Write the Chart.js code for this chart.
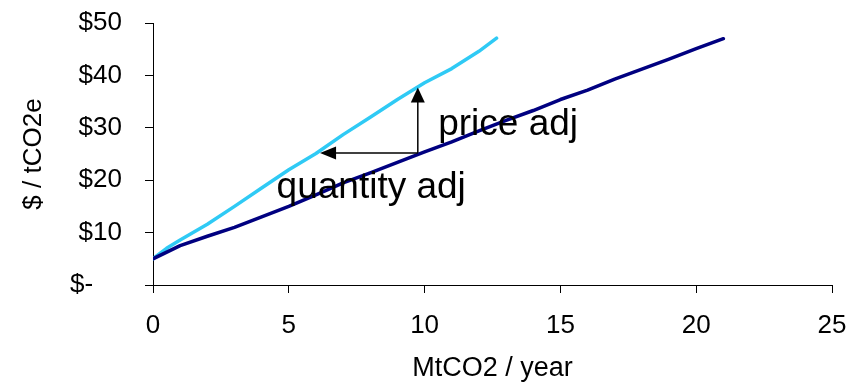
<!DOCTYPE html>
<html>
<head>
<meta charset="utf-8">
<script src="https://cdn.jsdelivr.net/npm/chart.js@4/dist/chart.umd.min.js"></script>
<style>
  html, body { margin: 0; padding: 0; background: #fff; }
  canvas { display: block; }
</style>
</head>
<body>
<canvas id="supply" width="864" height="385"></canvas>
<script>
// Abatement supply curves: price per tonne against quantity abated
const baseQty   = [0, 1, 2, 3, 4, 5, 6, 7, 8, 9, 10, 11, 12, 13, 14, 15, 16, 17, 18, 19, 20, 21];
const basePrice = [5, 7.5, 9.3, 11.0, 13.0, 15.0, 17.2, 19.5, 21.4, 23.4, 25.4, 27.3, 29.4, 31.4, 33.3, 35.4, 37.2, 39.3, 41.2, 43.1, 45.1, 47.0];

const adjQty    = [0, 0.5, 1, 2, 3, 4, 5, 6, 7, 8, 9, 10, 11, 12, 12.65];
const adjPrice  = [5, 7.0, 8.6, 11.6, 15.0, 18.5, 22.0, 25.1, 28.7, 32.0, 35.4, 38.6, 41.3, 44.6, 47.1];

const xTicks = [0, 5, 10, 15, 20, 25];
// accounting-style labels: the zero dash sits left of the digit column
const yTickLabels = ['$-\u2007\u2007', '$10', '$20', '$30', '$40', '$50'];

// Adjustment arrows: shared origin, price move up, quantity move left
const arrowOrigin = [9.75, 25.2];
const priceArrowTo = [9.75, 37.7];
const qtyArrowTo = [6.15, 25.2];
const priceLabel = { text: 'price adj', at: [10.5, 30.6] };
const qtyLabel = { text: 'quantity adj', at: [4.55, 18.6] };

const FONT = '"Liberation Sans", Arial, sans-serif';

const pairs = (xs, ys) => xs.map((x, i) => ({ x, y: ys[i] }));

const arrowPlugin = {
  id: 'adjArrows',
  afterDatasetsDraw(chart) {
    const { ctx, scales: { x, y } } = chart;
    const px = v => x.getPixelForValue(v);
    const py = v => y.getPixelForValue(v);
    const ox = px(arrowOrigin[0]), oy = py(arrowOrigin[1]);

    ctx.save();
    ctx.strokeStyle = '#000';
    ctx.fillStyle = '#000';
    ctx.lineWidth = 1.5;

    // vertical arrow
    const tx = px(priceArrowTo[0]), ty = py(priceArrowTo[1]);
    ctx.beginPath();
    ctx.moveTo(ox, oy);
    ctx.lineTo(tx, ty + 12);
    ctx.stroke();
    ctx.beginPath();
    ctx.moveTo(tx, ty);
    ctx.lineTo(tx - 7, ty + 15);
    ctx.lineTo(tx + 7, ty + 15);
    ctx.closePath();
    ctx.fill();

    // horizontal arrow
    const hx = px(qtyArrowTo[0]), hy = py(qtyArrowTo[1]);
    ctx.beginPath();
    ctx.moveTo(ox, oy);
    ctx.lineTo(hx + 12, hy);
    ctx.stroke();
    ctx.beginPath();
    ctx.moveTo(hx, hy);
    ctx.lineTo(hx + 16, hy - 6.5);
    ctx.lineTo(hx + 16, hy + 6.5);
    ctx.closePath();
    ctx.fill();

    // labels
    ctx.font = '37px ' + FONT;
    ctx.textAlign = 'left';
    ctx.textBaseline = 'middle';
    [priceLabel, qtyLabel].forEach(l => {
      ctx.fillText(l.text, px(l.at[0]), py(l.at[1]));
    });
    ctx.restore();
  }
};

new Chart(document.getElementById('supply'), {
  type: 'line',
  data: {
    datasets: [
      {
        data: pairs(baseQty, basePrice),
        borderColor: '#000080',
        borderWidth: 3.5,
        pointRadius: 0,
        tension: 0,
        borderCapStyle: 'round',
        borderJoinStyle: 'round'
      },
      {
        data: pairs(adjQty, adjPrice),
        borderColor: '#2FCAF5',
        borderWidth: 3.5,
        pointRadius: 0,
        tension: 0,
        borderCapStyle: 'round',
        borderJoinStyle: 'round'
      }
    ]
  },
  options: {
    responsive: false,
    animation: false,
    events: [],
    layout: { padding: { left: 0, right: 32, top: 23, bottom: 0 } },
    plugins: { legend: { display: false }, tooltip: { enabled: false } },
    scales: {
      x: {
        type: 'linear',
        min: 0,
        max: 25,
        afterBuildTicks: s => { s.ticks = xTicks.map(v => ({ value: v })); },
        afterFit: s => { s.height = 100; s.paddingLeft = 0; s.paddingRight = 0; },
        border: { display: true, color: '#000', width: 1 },
        grid: { drawOnChartArea: false, drawTicks: true, tickLength: 8, color: '#000' },
        ticks: { color: '#000', padding: 17, maxRotation: 0, font: { family: FONT, size: 26 } },
        title: {
          display: true,
          text: 'MtCO2 / year',
          color: '#000',
          font: { family: FONT, size: 27 },
          padding: { top: 0, bottom: 0 }
        }
      },
      y: {
        type: 'linear',
        min: 0,
        max: 50,
        afterBuildTicks: s => { s.ticks = yTickLabels.map((_, i) => ({ value: i * 10 })); },
        afterFit: s => { s.width = 153; s.paddingTop = 0; s.paddingBottom = 0; },
        border: { display: true, color: '#000', width: 1 },
        grid: { drawOnChartArea: false, drawTicks: true, tickLength: 8, color: '#000' },
        ticks: {
          color: '#000',
          padding: 23,
          font: { family: FONT, size: 26 },
          callback: (v, i) => yTickLabels[i]
        },
        title: {
          display: true,
          text: '$ / tCO2e',
          color: '#000',
          font: { family: FONT, size: 26 },
          padding: { top: 18, bottom: 0 }
        }
      }
    }
  },
  plugins: [arrowPlugin]
});
</script>
</body>
</html>
